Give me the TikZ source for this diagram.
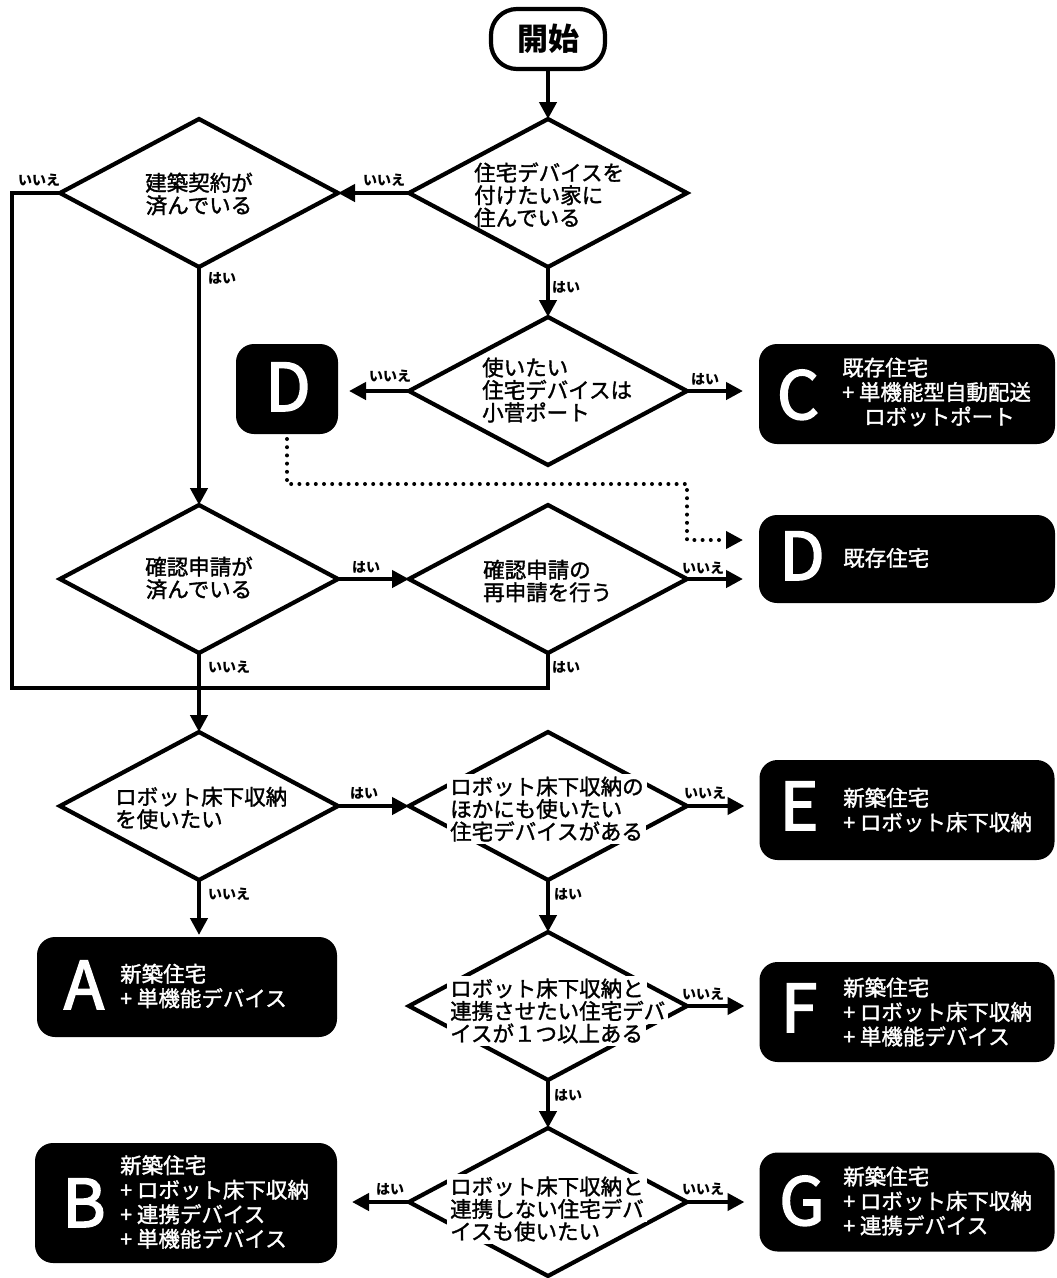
\documentclass[tikz,border=0pt]{standalone}
\usepackage{fontspec}
\newfontfamily\jp{Noto Sans CJK JP}
\newfontfamily\jpm[FakeBold=1.5]{Noto Sans CJK JP}
\newfontfamily\jpl[FakeBold=2.5]{Noto Sans CJK JP}
\usetikzlibrary{shapes.geometric,arrows.meta}
\setlength\fboxsep{3pt}
\newcommand\bgl[1]{\rlap{\hspace*{-3pt}\smash{\colorbox{white}{\phantom{#1}}}}\phantom{#1}}
\tikzset{
 lw/.style={line width=4.2pt},
 dia/.style={draw, lw, shape=diamond, minimum width=278pt, minimum height=148pt, inner sep=0pt, outer sep=0pt},
 dtext/.style={font=\jpm\fontsize{21.5}{22.5}\selectfont, align=left, inner sep=0pt},
 arr/.style={lw, -{Triangle[length=17pt,width=17pt]}},
 conn/.style={lw},
 blackbox/.style={fill=black, rounded corners=18pt, inner sep=0pt, outer sep=0pt},
 letter/.style={text=white, font=\jpl\fontsize{66}{66}\selectfont, inner sep=0pt, text height=44pt, text depth=0pt},
 btext/.style={text=white, font=\jpm\fontsize{21.5}{24.5}\selectfont, align=left, inner sep=0pt, anchor=west},
 lab/.style={font=\jp\bfseries\fontsize{14}{14}\selectfont, inner sep=0pt},
 dotline/.style={line width=4pt, line cap=round, dash pattern=on 0pt off 8.2pt},
}
\begin{document}
\begin{tikzpicture}[x=1pt,y=-1pt]
\useasboundingbox (0,0) rectangle (1057,1278);
\fill[white] (0,0) rectangle (1057,1278);

% start
\node[draw, lw, rounded corners=26pt, minimum width=114pt, minimum height=60pt, inner sep=0pt, outer sep=0pt, font=\jp\bfseries\fontsize{31}{31}\selectfont] (start) at (548,39) {開始};

% diamonds
\node[dia] (d1) at (548,193) {};
\node[dia] (d2) at (199,193) {};
\node[dia] (d3) at (548,391) {};
\node[dia] (d4) at (199,579) {};
\node[dia] (d5) at (548,579) {};
\node[dia] (d6) at (199,806) {};
\node[dia] (d7) at (548,806) {};
\node[dia] (d8) at (548,1006) {};
\node[dia] (d9) at (548,1202) {};

% diamond texts
\node[dtext, anchor=west] (t1) at (474,195) {住宅デバイスを\\付けたい家に\\住んでいる};
\node[dtext, align=center] (t2) at (199,194) {建築契約が\\済んでいる};
\node[dtext, anchor=west] (t3) at (482,390) {使いたい\\住宅デバイスは\\小菅ポート};
\node[dtext, align=center] (t4) at (199,578) {確認申請が\\済んでいる};
\node[dtext, anchor=west] (t5) at (483,581) {確認申請の\\再申請を行う};
\node[dtext, anchor=west] (t6) at (115,808) {ロボット床下収納\\を使いたい};
\node[dtext, anchor=west] (b7) at (450,809) {\bgl{ロボット床下収納の}\\\bgl{ほかにも使いたい}\\\bgl{住宅デバイスがある}};
\node[dtext, anchor=west] (t7) at (450,809) {ロボット床下収納の\\ほかにも使いたい\\住宅デバイスがある};
\node[dtext, anchor=west] (b8) at (450,1011) {\bgl{ロボット床下収納と}\\\bgl{連携させたい住宅デバ}\\\bgl{イスが１つ以上ある}};
\node[dtext, anchor=west] (t8) at (450,1011) {ロボット床下収納と\\連携させたい住宅デバ\\イスが１つ以上ある};
\node[dtext, anchor=west] (b9) at (450,1209) {\bgl{ロボット床下収納と}\\\bgl{連携しない住宅デバ}\\\bgl{イスも使いたい}};
\node[dtext, anchor=west] (t9) at (450,1209) {ロボット床下収納と\\連携しない住宅デバ\\イスも使いたい};

% result boxes
\node[blackbox, minimum width=102pt, minimum height=90pt] (ds) at (287,389) {};
\node[blackbox, minimum width=296pt, minimum height=100pt] (cbox) at (907,394) {};
\node[blackbox, minimum width=296pt, minimum height=88pt] (dbox) at (907,559) {};
\node[blackbox, minimum width=295pt, minimum height=100pt] (ebox) at (907,810) {};
\node[blackbox, minimum width=300pt, minimum height=100pt] (abox) at (187,987) {};
\node[blackbox, minimum width=295pt, minimum height=100pt] (fbox) at (907,1012) {};
\node[blackbox, minimum width=302pt, minimum height=120pt] (bbox) at (186,1203) {};
\node[blackbox, minimum width=295pt, minimum height=99pt] (gbox) at (907,1202) {};

\node[letter] (lds) at (288,389) {D};
\node[letter] (lc) at (798,397) {C};
\node[letter] (ld) at (802,558) {D};
\node[letter] (le) at (799,808) {E};
\node[letter] (la) at (84,987) {A};
\node[letter] (lf) at (799,1010) {F};
\node[letter] (lb) at (84,1205) {B};
\node[letter] (lg) at (802,1203) {G};

\node[btext] (tc) at (842,392) {既存住宅\\+ 単機能型自動配送\\\hspace*{22pt}ロボットポート};
\node[btext] (td) at (843,558) {既存住宅};
\node[btext] (te) at (843,810) {新築住宅\\+ ロボット床下収納};
\node[btext] (ta) at (120,986) {新築住宅\\+ 単機能デバイス};
\node[btext] (tf) at (843,1012) {新築住宅\\+ ロボット床下収納\\+ 単機能デバイス};
\node[btext] (tb) at (120,1202) {新築住宅\\+ ロボット床下収納\\+ 連携デバイス\\+ 単機能デバイス};
\node[btext] (tg) at (843,1201) {新築住宅\\+ ロボット床下収納\\+ 連携デバイス};

% connectors
\coordinate (lpB) at (12,688);
\coordinate (lpR) at (548,688);
\coordinate (dp1) at (687,484);
\coordinate (dp2) at (743,540);

\draw[arr] (start.south) -- (d1.north);
\draw[arr] (d1.west) -- (d2.east);
\draw[arr] (d1.south) -- (d3.north);
\draw[arr] (d2.south) -- (d4.north);
\draw[arr, shorten >=11pt] (d3.west) -- (d3.west -| ds.east);
\draw[arr, shorten >=16pt] (d3.east) -- (d3.east -| cbox.west);
\draw[arr] (d4.east) -- (d5.west);
\draw[arr, shorten >=16pt] (d5.east) -- (d5.east -| dbox.west);
\draw[conn] (d2.west) -| (lpB) -- (lpR) -- (d5.south);
\draw[arr] (d4.south) -- (d6.north);
\draw[arr] (d6.east) -- (d7.west);
\draw[arr, shorten >=15pt] (d7.east) -- (d7.east -| ebox.west);
\draw[arr, shorten >=2pt] (d6.south) -- (d6.south |- abox.north);
\draw[arr] (d7.south) -- (d8.north);
\draw[arr, shorten >=15pt] (d8.east) -- (d8.east -| fbox.west);
\draw[arr] (d8.south) -- (d9.north);
\draw[arr, shorten >=15pt] (d9.west) -- (d9.west -| bbox.east);
\draw[arr, shorten >=15pt] (d9.east) -- (d9.east -| gbox.west);
\draw[dotline, -{Triangle[length=17pt,width=17pt]}] (ds.south) ++(0,5) |- (dp1) |- (dp2);

% labels
\node[lab] (l1) at (384,180) {いいえ};
\node[lab] (l2) at (39,180) {いいえ};
\node[lab] (l3) at (222,278) {はい};
\node[lab] (l4) at (566,287) {はい};
\node[lab] (l5) at (390,376) {いいえ};
\node[lab] (l6) at (705,379) {はい};
\node[lab] (l7) at (366,567) {はい};
\node[lab] (l8) at (703,568) {いいえ};
\node[lab] (l9) at (229,667) {いいえ};
\node[lab] (l10) at (566,667) {はい};
\node[lab] (l11) at (364,793) {はい};
\node[lab] (l12) at (705,793) {いいえ};
\node[lab] (l13) at (229,894) {いいえ};
\node[lab] (l14) at (568,894) {はい};
\node[lab] (l15) at (703,994) {いいえ};
\node[lab] (l16) at (568,1095) {はい};
\node[lab] (l17) at (390,1189) {はい};
\node[lab] (l18) at (703,1189) {いいえ};
\end{tikzpicture}
\end{document}
